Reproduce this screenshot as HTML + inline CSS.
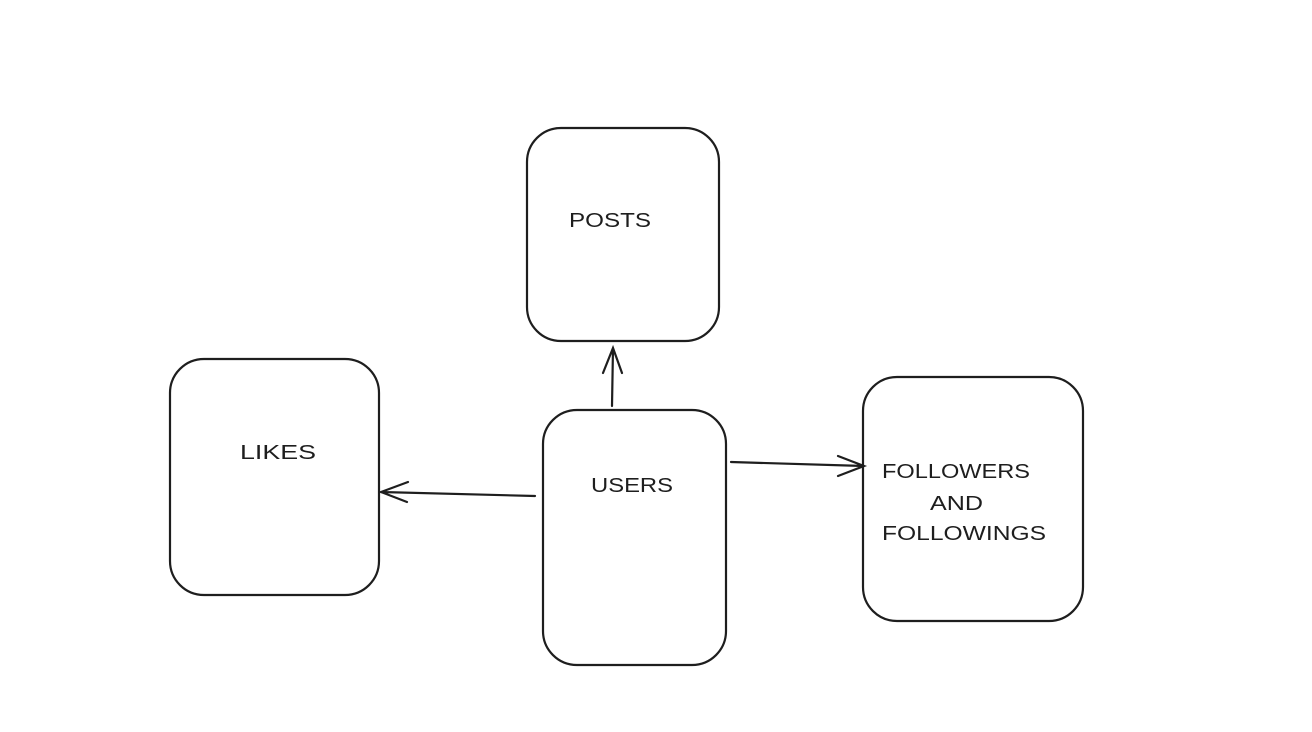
<!DOCTYPE html>
<html><head><style>body{margin:0;background:#fff}svg{display:block}</style></head>
<body>
<svg width="1312" height="732" viewBox="0 0 1312 732" xmlns="http://www.w3.org/2000/svg">
<g fill="none" stroke="#1e1e1e" stroke-width="2.2" stroke-linecap="round">
<rect x="527" y="128" width="192" height="213" rx="34"/>
<rect x="170" y="359" width="209" height="236" rx="34"/>
<rect x="543" y="410" width="183" height="255" rx="34"/>
<rect x="863" y="377" width="220" height="244" rx="34"/>
<path d="M612 406 L613 348 M603 373 L613 348 L622 373"/>
<path d="M535 496 L381 492 M408 482 L381 492 L407 502"/>
<path d="M731 462 L864 466 M838 456 L864 466 L838 476"/>
</g>
<g font-family="Liberation Sans, sans-serif" font-size="20" fill="#1e1e1e">
<text x="569" y="227" textLength="82" lengthAdjust="spacingAndGlyphs">POSTS</text>
<text x="240" y="459" textLength="76" lengthAdjust="spacingAndGlyphs">LIKES</text>
<text x="591" y="492" textLength="82" lengthAdjust="spacingAndGlyphs">USERS</text>
<text x="882" y="478" textLength="148" lengthAdjust="spacingAndGlyphs">FOLLOWERS</text>
<text x="930" y="510" textLength="53" lengthAdjust="spacingAndGlyphs">AND</text>
<text x="882" y="540" textLength="164" lengthAdjust="spacingAndGlyphs">FOLLOWINGS</text>
</g>
</svg>
</body></html>
